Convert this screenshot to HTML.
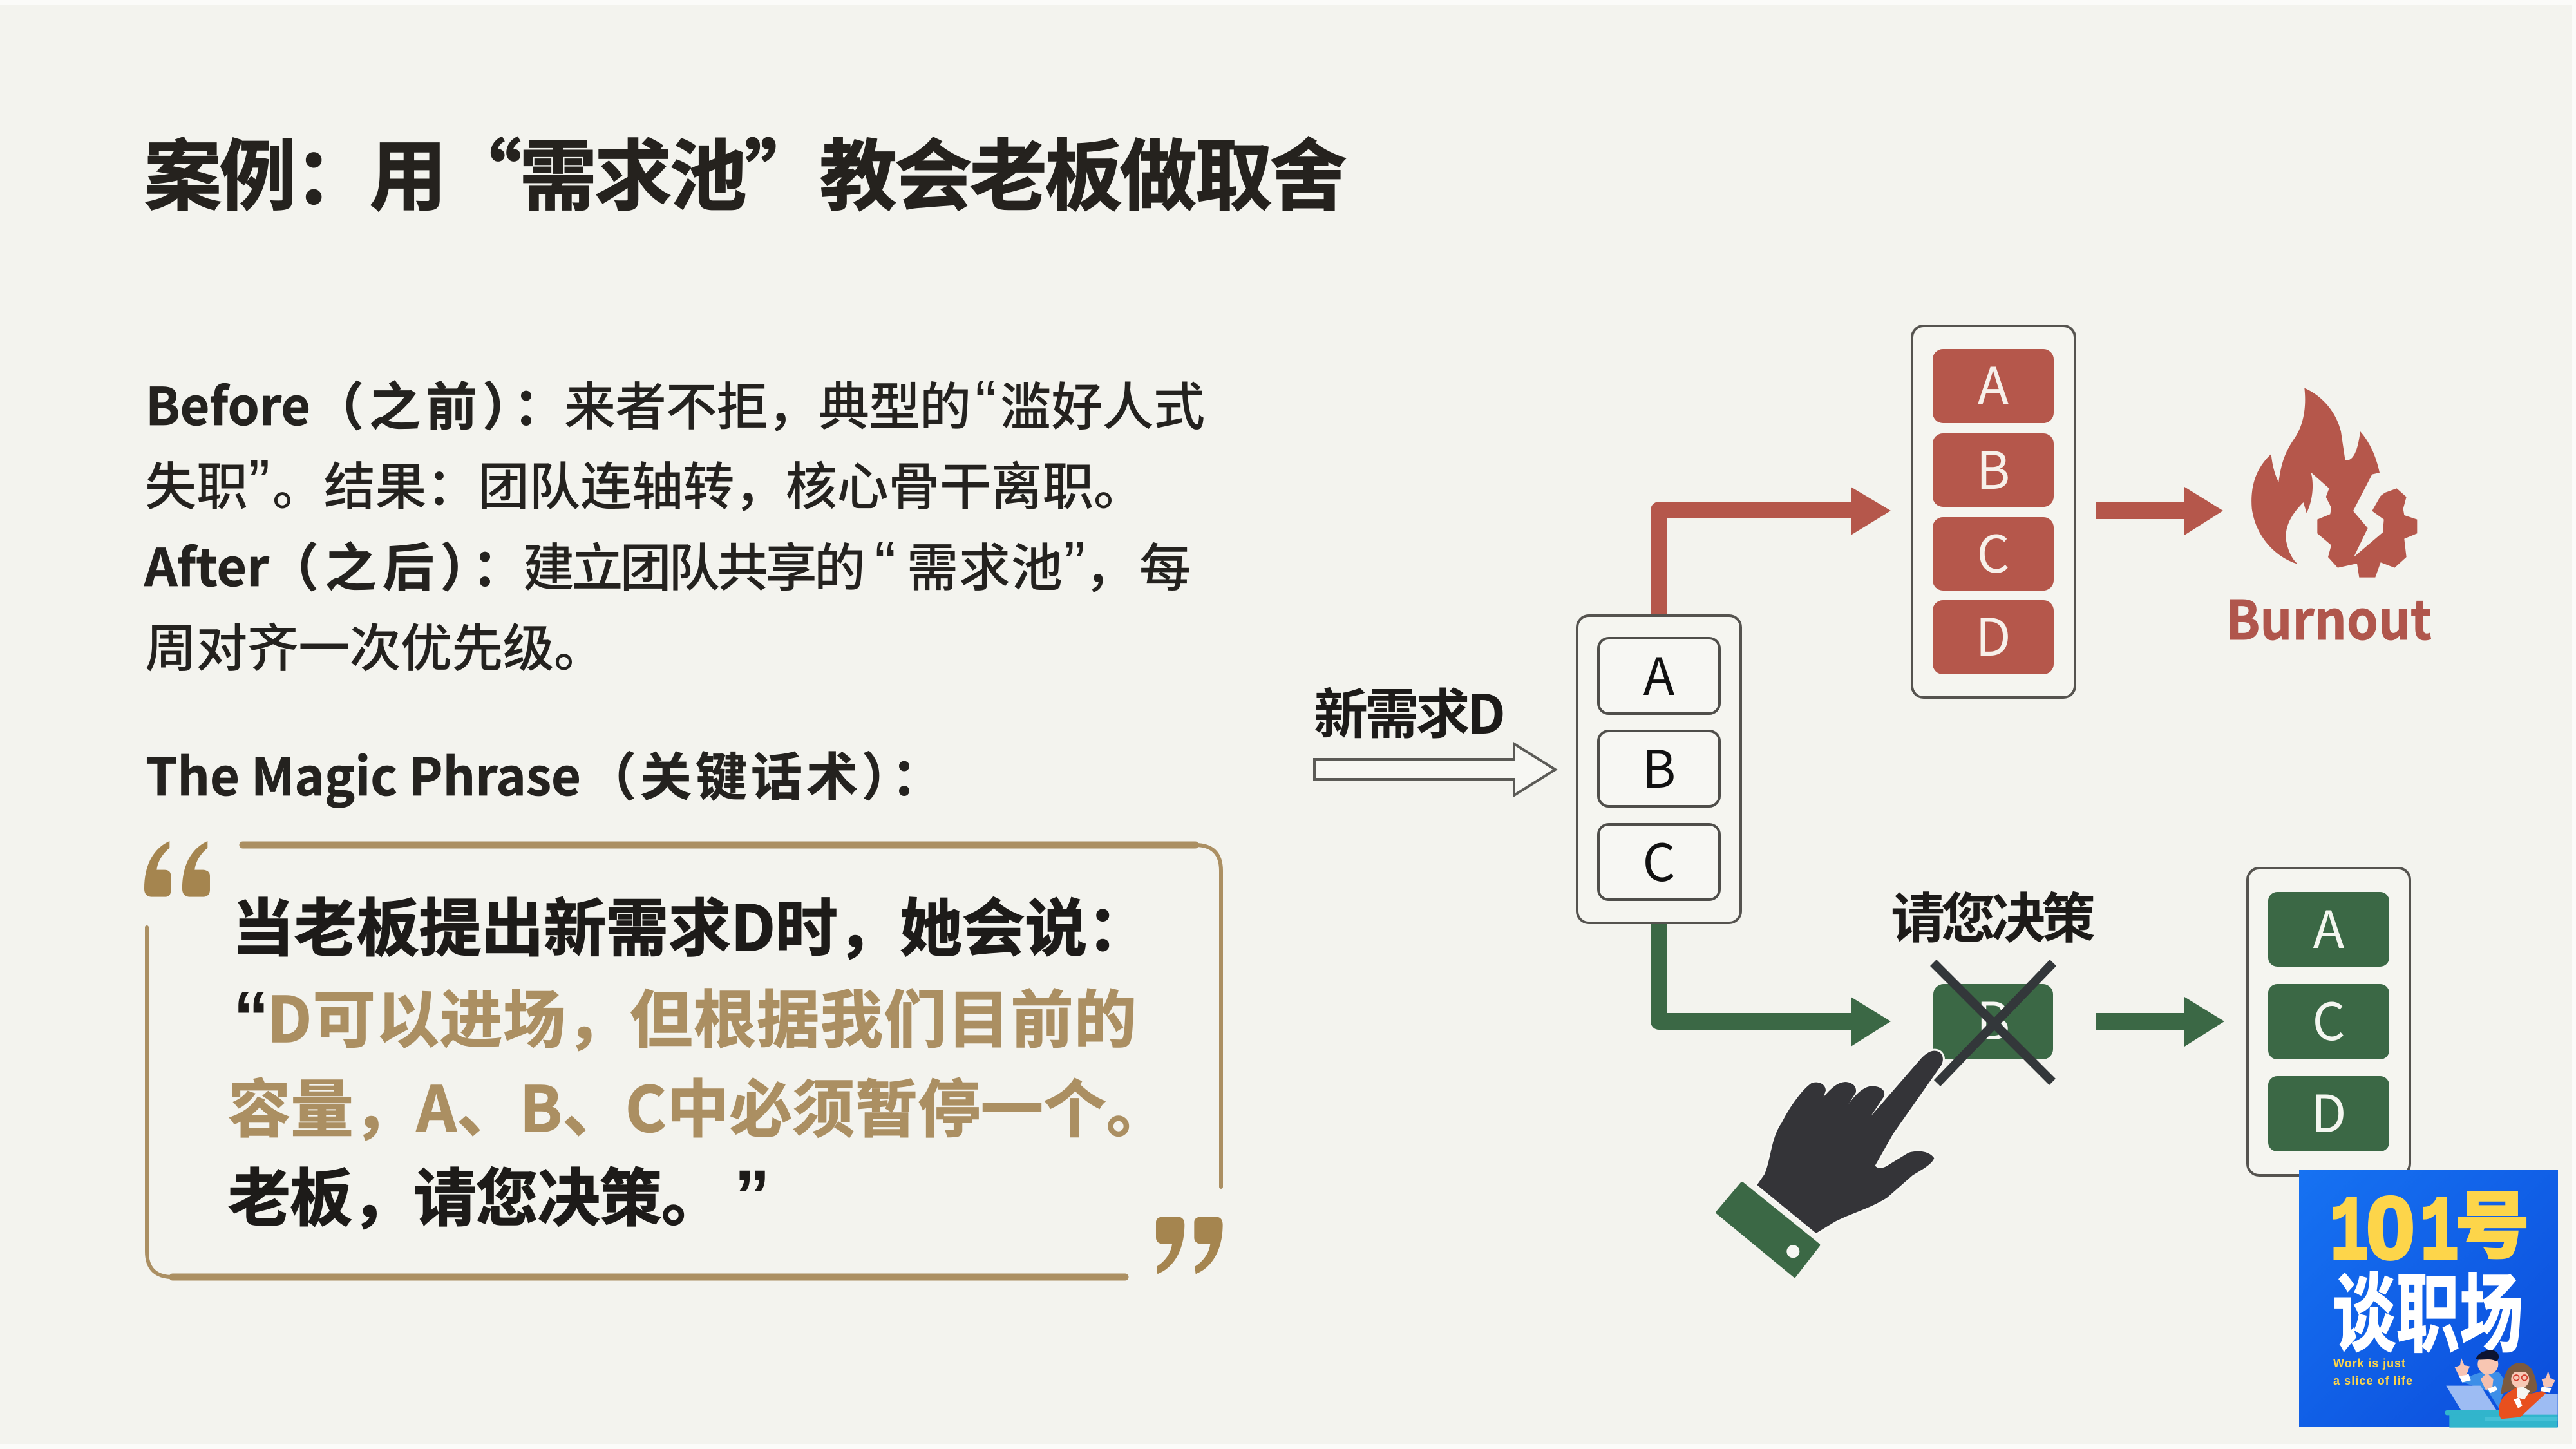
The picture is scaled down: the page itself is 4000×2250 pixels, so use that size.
<!DOCTYPE html>
<html lang="zh-CN"><head><meta charset="utf-8"><title>案例</title>
<style>
html,body{margin:0;padding:0;background:#f3f3ee;width:4000px;height:2250px;overflow:hidden}
svg{display:block}
text{font-family:"Noto Sans CJK SC","Liberation Sans",sans-serif}
.q{font-family:"Liberation Sans",sans-serif;font-size:100px;fill:#24221f}
.t{fill:#24221f;font-size:80px;font-weight:500}
.b{fill:#24221f;font-size:80px;font-weight:700;stroke:#24221f;stroke-width:.8}
.k{fill:#1d1b19;font-size:97px;font-weight:700;stroke:#1d1b19;stroke-width:1.6}
.g{fill:#ab8f62;font-size:97px;font-weight:700;stroke:#ab8f62;stroke-width:1.6}
.kq{font-family:"Liberation Sans",sans-serif;font-size:112px;font-weight:700;fill:#1d1b19}
.l{font-size:80px;text-anchor:middle;font-weight:400}
.box{fill:#f5f5f0;stroke:#55534f;stroke-width:4}
.wi{fill:#f7f7f3;stroke:#4f4e4a;stroke-width:4}
</style></head><body>
<svg width="4000" height="2250" viewBox="0 0 4000 2250" xmlns="http://www.w3.org/2000/svg">
<defs><linearGradient id="lg" x1="0" y1="0" x2="1" y2="1"><stop offset="0" stop-color="#1672f2"/><stop offset="1" stop-color="#0b4cdb"/></linearGradient></defs>
<rect width="4000" height="2250" fill="#f3f3ee"/>
<rect width="4000" height="7" fill="#fbfbf9"/>
<rect y="2242" width="4000" height="8" fill="#fbfbf9"/>
<rect x="3994" width="6" height="2250" fill="#fbfbf9"/>

<!-- Title -->
<text x="224" y="316" font-size="120" font-weight="700" fill="#25221e" stroke="#25221e" stroke-width="1.8" textLength="1868">案例：用“需求池”教会老板做取舍</text>

<!-- Body line 1 -->
<text class="b" x="226" y="660" textLength="256" lengthAdjust="spacingAndGlyphs">Before</text>
<text class="b" x="485" y="660" textLength="392">（之前）：</text>
<text class="t" x="876" y="660" textLength="632">来者不拒，典型的</text>
<text class="q" x="1514" y="660">“</text>
<text class="t" x="1553" y="660" textLength="318">滥好人式</text>
<!-- Body line 2 -->
<text class="t" x="225" y="784" textLength="160">失职</text>
<text class="q" x="386" y="784">”</text>
<text class="t" x="423" y="784" textLength="1355">。结果：团队连轴转，核心骨干离职。</text>
<!-- Body line 3 -->
<text class="b" x="224" y="910" textLength="194" lengthAdjust="spacingAndGlyphs">After</text>
<text class="b" x="415" y="910" textLength="398">（之后）：</text>
<text class="t" x="812" y="910" textLength="532">建立团队共享的</text>
<text class="q" x="1358" y="910">“</text>
<text class="t" x="1408" y="910" textLength="242">需求池</text>
<text class="q" x="1652" y="910">”</text>
<text class="t" x="1684" y="910" textLength="165">，每</text>
<!-- Body line 4 -->
<text class="t" x="225" y="1035" textLength="715">周对齐一次优先级。</text>
<!-- Magic -->
<text class="b" x="226" y="1235" textLength="676" lengthAdjust="spacingAndGlyphs">The Magic Phrase</text>
<text class="b" x="908" y="1235" textLength="556">（关键话术）：</text>

<!-- Quote frame -->
<g fill="none" stroke="#ab8f62" stroke-linecap="round">
<path d="M377 1312H1856" stroke-width="11"/>
<path d="M1856 1312Q1896 1312 1896 1352V1843" stroke-width="6"/>
<path d="M1747 1983H268" stroke-width="11"/>
<path d="M268 1983Q228 1983 228 1943V1440" stroke-width="6"/>
</g>
<!-- Decorative quotation ornaments -->
<g fill="#a5854f">
<g transform="translate(200,1280) scale(.3333)">
<path d="M190 78C130 105 72 170 72 300C72 325 85 338 110 338L170 338C190 338 196 325 196 305L196 240C196 220 185 212 165 212L130 212C135 170 160 135 190 110Z"/>
<path d="M367 78C307 105 249 170 249 300C249 325 262 338 287 338L347 338C367 338 378 325 378 305L378 240C378 220 362 212 342 212L307 212C312 170 337 135 367 110Z"/>
</g>
<g transform="translate(1740,1830) scale(.3333)">
<path d="M165 205C165 185 180 178 200 178L265 178C290 178 298 195 298 215C298 330 250 415 172 445L168 410C210 385 235 345 240 305L200 305C180 305 165 295 165 275Z"/>
<path d="M343 205C343 185 358 178 378 178L443 178C468 178 476 195 476 215C476 330 428 415 350 445L346 410C388 385 413 345 418 305L378 305C358 305 343 295 343 275Z"/>
</g>
</g>

<!-- Quote text -->
<text class="k" x="360" y="1476" textLength="1425">当老板提出新需求D时，她会说：</text>
<text class="kq" x="362" y="1618">“</text>
<text class="g" x="415" y="1618" textLength="1350">D可以进场，但根据我们目前的</text>
<text class="g" x="354" y="1757" textLength="1461">容量，A、B、C中必须暂停一个。</text>
<text class="k" x="354" y="1895" textLength="770">老板，请您决策。</text>
<text class="kq" x="1140" y="1895">”</text>

<!-- Incoming -->
<text x="2040" y="1139" font-size="84" font-weight="700" fill="#1d1b19" textLength="298">新需求D</text>
<path d="M2041 1179H2351V1155L2415 1195L2351 1235V1210H2041Z" fill="#f7f7f3" stroke="#5b5a56" stroke-width="4"/>

<!-- Connectors red -->
<path d="M2576 956V792H2885" fill="none" stroke="#b5574b" stroke-width="26" stroke-linejoin="round"/>
<path d="M2874 756L2936 793L2874 831Z" fill="#b5574b"/>
<path d="M3254 780H3392V756L3452 793L3392 831V806H3254Z" fill="#b5574b"/>

<!-- Connectors green -->
<path d="M2576 1431V1586H2885" fill="none" stroke="#3b6845" stroke-width="26" stroke-linejoin="round"/>
<path d="M2874 1548L2936 1586L2874 1625Z" fill="#3b6845"/>
<path d="M3254 1573H3392V1548L3454 1586L3392 1625V1599H3254Z" fill="#3b6845"/>

<!-- Left stack -->
<rect class="box" x="2449" y="956" width="254" height="477" rx="18"/>
<rect class="wi" x="2482" y="991" width="188" height="117" rx="16"/>
<rect class="wi" x="2482" y="1135" width="188" height="117" rx="16"/>
<rect class="wi" x="2482" y="1280" width="188" height="117" rx="16"/>
<text class="l" x="2576" y="1079" fill="#111">A</text>
<text class="l" x="2576" y="1223" fill="#111">B</text>
<text class="l" x="2576" y="1368" fill="#111">C</text>

<!-- Top stack -->
<rect class="box" x="2969" y="506" width="253" height="577" rx="18"/>
<g fill="#b5574b">
<rect x="3001" y="542" width="188" height="115" rx="16"/>
<rect x="3001" y="673" width="188" height="114" rx="16"/>
<rect x="3001" y="803" width="188" height="114" rx="16"/>
<rect x="3001" y="932" width="188" height="115" rx="16"/>
</g>
<g fill="#f7f0ea">
<text class="l" x="3095" y="628">A</text>
<text class="l" x="3095" y="759">B</text>
<text class="l" x="3095" y="889">C</text>
<text class="l" x="3095" y="1018">D</text>
</g>

<!-- Flame + gear -->
<g transform="translate(3470,590) scale(.3333)">
<path fill="#b5574b" d="M325 38C400 70 470 140 495 240L515 375C550 378 572 340 585 240C630 290 660 360 675 432L640 440L552 610L620 690L555 825L690 710L695 650L640 610L680 540L700 525L755 505L800 545L785 600L790 630L850 650L850 715L790 740L800 825L745 875L680 850L655 920L580 920L570 855L480 875L435 825L450 770L385 715L385 650L445 625L450 595L425 545L440 505L355 430C370 480 365 560 335 620L320 570C270 620 230 680 240 750C250 800 270 840 295 858C200 830 100 740 80 600C70 480 110 400 170 345C175 400 190 450 205 475C215 400 230 340 280 270C320 210 335 130 325 38Z"/>
</g>
<text x="3456" y="993" font-size="84" font-weight="700" fill="#b0564c" stroke="#b0564c" stroke-width="1" textLength="320" lengthAdjust="spacingAndGlyphs">Burnout</text>

<!-- Decision -->
<text x="2936" y="1456" font-size="84" font-weight="700" fill="#1d1b19" textLength="318">请您决策</text>
<rect x="3002" y="1528" width="186" height="117" rx="16" fill="#3b6845"/>
<text class="l" x="3095" y="1614" fill="#f7f7f3" font-weight="700">B</text>
<g stroke="#33373a" stroke-width="14"><path d="M3002 1495L3187 1680M3188 1495L3008 1682"/></g>

<!-- Hand -->
<g transform="translate(2650,1600) scale(.3333)">
<path d="M1060 95C1095 95 1110 125 1095 160L870 480L785 630C800 650 830 640 850 625L940 570C990 555 1040 565 1060 595C1050 625 1000 650 960 675L840 780C760 830 680 850 600 890L510 945L235 720L270 670C300 600 300 500 350 430C390 350 450 270 490 245C520 235 555 250 555 280L545 310C580 270 610 240 650 240C690 245 700 270 695 290L660 345C700 290 740 255 780 260C825 265 835 290 825 310L765 400L1000 130C1020 110 1040 95 1060 95Z" fill="#343438" stroke="#f7f7f3" stroke-width="18" paint-order="stroke"/>
<path d="M165 712L522 1000L410 1145L50 848Z" fill="#3b6845" stroke="#3b6845" stroke-width="14" stroke-linejoin="round"/>
<circle cx="403" cy="1030" r="30" fill="#f7f7f3"/>
</g>

<!-- Right stack -->
<rect class="box" x="3490" y="1348" width="252" height="477" rx="18"/>
<g fill="#3b6845">
<rect x="3522" y="1385" width="188" height="116" rx="14"/>
<rect x="3522" y="1528" width="188" height="117" rx="14"/>
<rect x="3522" y="1671" width="188" height="117" rx="14"/>
</g>
<g fill="#f4f6f0">
<text class="l" x="3616" y="1472">A</text>
<text class="l" x="3616" y="1615">C</text>
<text class="l" x="3616" y="1758">D</text>
</g>

<!-- Logo -->
<rect x="3570" y="1816" width="402" height="400" fill="url(#lg)"/>
<g fill="#fdd54a" stroke="#fdd54a" stroke-width="5">
<text x="3618" y="1954" font-size="142" font-weight="700" textLength="60" lengthAdjust="spacingAndGlyphs" style="font-family:'Liberation Mono',monospace">1</text>
<text x="3674" y="1954" font-size="137" font-weight="700" textLength="76" lengthAdjust="spacingAndGlyphs" style="font-family:'Liberation Sans',sans-serif">0</text>
<text x="3758" y="1954" font-size="142" font-weight="700" textLength="60" lengthAdjust="spacingAndGlyphs" style="font-family:'Liberation Mono',monospace">1</text>
<text x="3813" y="1943" font-size="112" font-weight="700" textLength="114" lengthAdjust="spacingAndGlyphs">号</text>
</g>
<text x="3622" y="2088" font-size="134" font-weight="700" fill="#ffffff" stroke="#fff" stroke-width="2" textLength="296" lengthAdjust="spacingAndGlyphs">谈职场</text>
<text x="3623" y="2123" font-size="18" font-weight="700" fill="#fdd54a" textLength="112" style="font-family:'Liberation Sans',sans-serif">Work is just</text>
<text x="3623" y="2150" font-size="18" font-weight="700" fill="#fdd54a" textLength="123" style="font-family:'Liberation Sans',sans-serif">a slice of life</text>
<g transform="translate(3780,2080) scale(.3333)">
<path d="M120 195L180 165L210 155L300 150L335 200L300 320L250 240L180 215Z" fill="#3d8fe8"/>
<path d="M115 170L160 160L170 190L130 200Z" fill="#fff"/>
<path d="M95 130L120 120L125 85L140 120L165 125L150 165L115 170Z" fill="#f7c4b4"/>
<circle cx="250" cy="115" r="48" fill="#f8c6b2"/>
<path d="M192 92C205 50 290 30 300 75C302 92 292 105 285 100C255 85 220 100 192 92Z" fill="#0d1433"/>
<path d="M215 185L245 155L275 185L270 225L240 235Z" fill="#f5bfae"/>
<path d="M250 230L285 215L295 235L260 250Z" fill="#fff"/>
<path d="M55 215H215L290 330H125Z" fill="#9dbcf3"/>
<path d="M470 255H575V365H405Z" fill="#9dbcf3"/>
<rect x="50" y="330" width="260" height="22" rx="8" fill="#31b5cc"/>
<rect x="70" y="350" width="505" height="60" fill="#31b5cc"/>
<rect x="235" y="362" width="340" height="18" fill="#45c0d6"/>
<path d="M310 255C320 170 340 110 400 108C460 110 475 180 480 235L440 260L360 235Z" fill="#7c5a3f"/>
<path d="M355 240L385 222L440 255L500 240L520 250L400 362L310 370C290 330 300 270 355 240Z" fill="#e8501e"/>
<circle cx="400" cy="185" r="42" fill="#f8c9b5"/>
<path d="M360 155C380 125 430 125 445 155C420 150 390 150 360 155Z" fill="#7c5a3f"/>
<circle cx="382" cy="178" r="13" fill="none" stroke="#d23a2b" stroke-width="5"/>
<circle cx="420" cy="178" r="13" fill="none" stroke="#d23a2b" stroke-width="5"/>
<path d="M385 225L415 220L445 240L420 280L385 270Z" fill="#f5f5f0"/>
<path d="M370 280L395 270L410 310L390 320Z" fill="#fff"/>
<path d="M500 185L520 180L530 145L540 180L563 190L548 220L510 220Z" fill="#f7c4b4"/>
<path d="M500 220L545 225L538 248L495 240Z" fill="#fff"/>
</g>
</svg>
</body></html>
